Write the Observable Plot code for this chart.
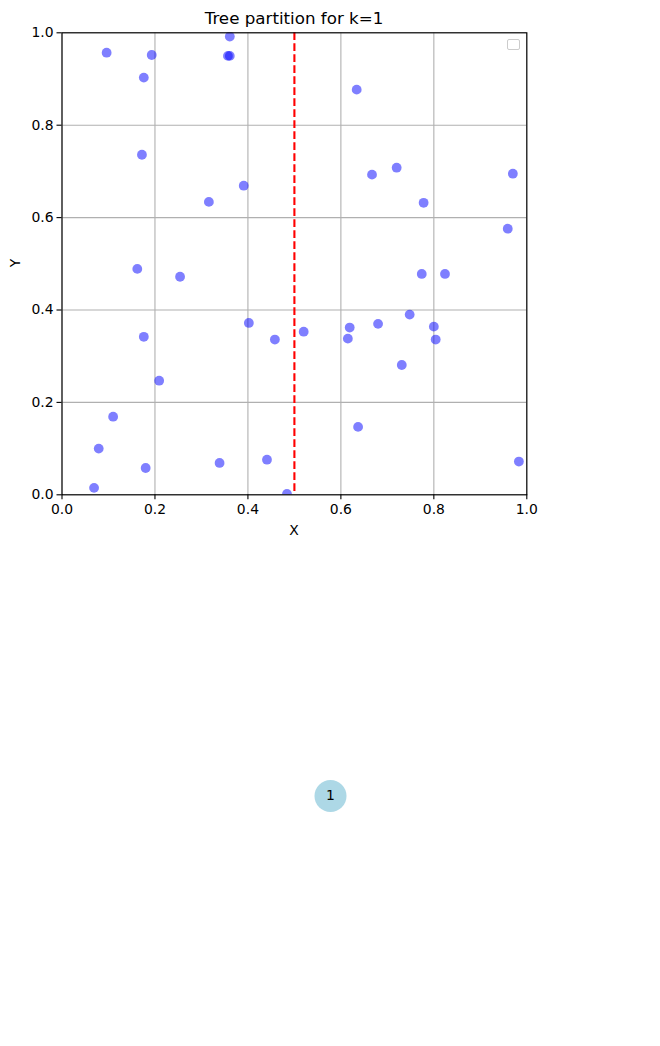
<!DOCTYPE html>
<html>
<head>
<meta charset="utf-8">
<script src="https://cdn.jsdelivr.net/npm/d3@7"></script>
<script src="https://cdn.jsdelivr.net/npm/@observablehq/plot@0.6"></script>
<style>
  html, body { margin: 0; padding: 0; background: white; }
  #wrap { position: relative; width: 660px; height: 1046px; font-family: "DejaVu Sans", sans-serif; color: black; }
  #wrap svg { display: block; }
  .lbl { position: absolute; white-space: nowrap; }
</style>
</head>
<body>
<div id="wrap"></div>
<script>
// ---- data ----
const title = "Tree partition for k=1";
const xLabel = "X";
const yLabel = "Y";
const pointX = [0.096, 0.193, 0.361, 0.357, 0.361, 0.176, 0.172, 0.391, 0.316, 0.634,
                0.667, 0.720, 0.778, 0.970, 0.959, 0.162, 0.254, 0.402, 0.176, 0.458,
                0.520, 0.209, 0.110, 0.079, 0.180, 0.069, 0.339, 0.441, 0.484, 0.774,
                0.824, 0.748, 0.680, 0.619, 0.615, 0.800, 0.804, 0.731, 0.637, 0.983];
const pointY = [0.957, 0.952, 0.992, 0.950, 0.950, 0.903, 0.736, 0.669, 0.634, 0.877,
                0.693, 0.708, 0.632, 0.695, 0.576, 0.489, 0.472, 0.372, 0.342, 0.336,
                0.353, 0.247, 0.169, 0.100, 0.058, 0.015, 0.069, 0.076, 0.002, 0.478,
                0.478, 0.390, 0.370, 0.362, 0.338, 0.364, 0.336, 0.281, 0.147, 0.072];
const splitX = [0.5];
const xTicks = [0, 0.2, 0.4, 0.6, 0.8, 1.0];
const yTicks = [0, 0.2, 0.4, 0.6, 0.8, 1.0];
const nodeLabels = ["1"];
const nodeX = [0.5];
const nodeY = [0.5];

const points = pointX.map((x, i) => ({x, y: pointY[i]}));
const nodes = nodeLabels.map((t, i) => ({t, x: nodeX[i], y: nodeY[i]}));

const wrap = document.getElementById("wrap");
const fmt = d => d.toFixed(1);

const scatter = Plot.plot({
  width: 660,
  height: 545,
  marginLeft: 61.5,
  marginRight: 133.7,
  marginTop: 32.3,
  marginBottom: 50.7,
  style: {fontFamily: "DejaVu Sans, sans-serif", fontSize: "13.9px", background: "white", color: "black", overflow: "visible"},
  x: {domain: [0, 1], axis: null},
  y: {domain: [0, 1], axis: null},
  marks: [
    Plot.gridX(xTicks, {stroke: "#b0b0b0", strokeOpacity: 1, strokeWidth: 1.1}),
    Plot.gridY(yTicks, {stroke: "#b0b0b0", strokeOpacity: 1, strokeWidth: 1.1}),
    Plot.dot(points, {x: "x", y: "y", r: 4.9, fill: "blue", fillOpacity: 0.5, stroke: "none", clip: true}),
    Plot.ruleX(splitX, {stroke: "red", strokeWidth: 2.1, strokeDasharray: "7.7,3.3"}),
    Plot.frame({stroke: "black", strokeWidth: 1.1}),
    Plot.axisX(xTicks, {tickFormat: fmt, tickSize: 5, tickPadding: 4.5, label: null, strokeWidth: 1.1, fill: "black"}),
    Plot.axisY(yTicks, {tickFormat: fmt, tickSize: 5, tickPadding: 3.5, label: null, strokeWidth: 1.1, fill: "black"})
  ]
});
wrap.appendChild(scatter);

const tree = Plot.plot({
  width: 660,
  height: 501,
  margin: 0,
  style: {fontFamily: "DejaVu Sans, sans-serif", background: "white", color: "black"},
  x: {domain: [0, 1], axis: null},
  y: {domain: [0, 1], axis: null},
  marks: [
    Plot.dot(nodes, {x: "x", y: "y", r: 16, fill: "#add8e6", stroke: "none"}),
    Plot.text(nodes, {x: "x", y: "y", text: "t", fontSize: 13.9, fill: "black"})
  ]
});
wrap.appendChild(tree);

// title, axis labels, empty legend box
function addLabel(text, css) {
  const d = document.createElement("div");
  d.className = "lbl";
  d.textContent = text;
  Object.assign(d.style, css);
  wrap.appendChild(d);
  return d;
}
addLabel(title, {left: "294px", top: "18px", transform: "translate(-50%,-50%)", fontSize: "16.7px"});
addLabel(xLabel, {left: "294px", top: "530px", transform: "translate(-50%,-50%)", fontSize: "13.9px"});
addLabel(yLabel, {left: "15px", top: "263px", transform: "translate(-50%,-50%) rotate(-90deg)", fontSize: "13.9px"});
const box = document.createElement("div");
Object.assign(box.style, {position: "absolute", left: "507px", top: "39px", width: "11px", height: "9px",
  border: "1px solid #cccccc", borderRadius: "2px", background: "white"});
wrap.appendChild(box);
</script>
</body>
</html>
